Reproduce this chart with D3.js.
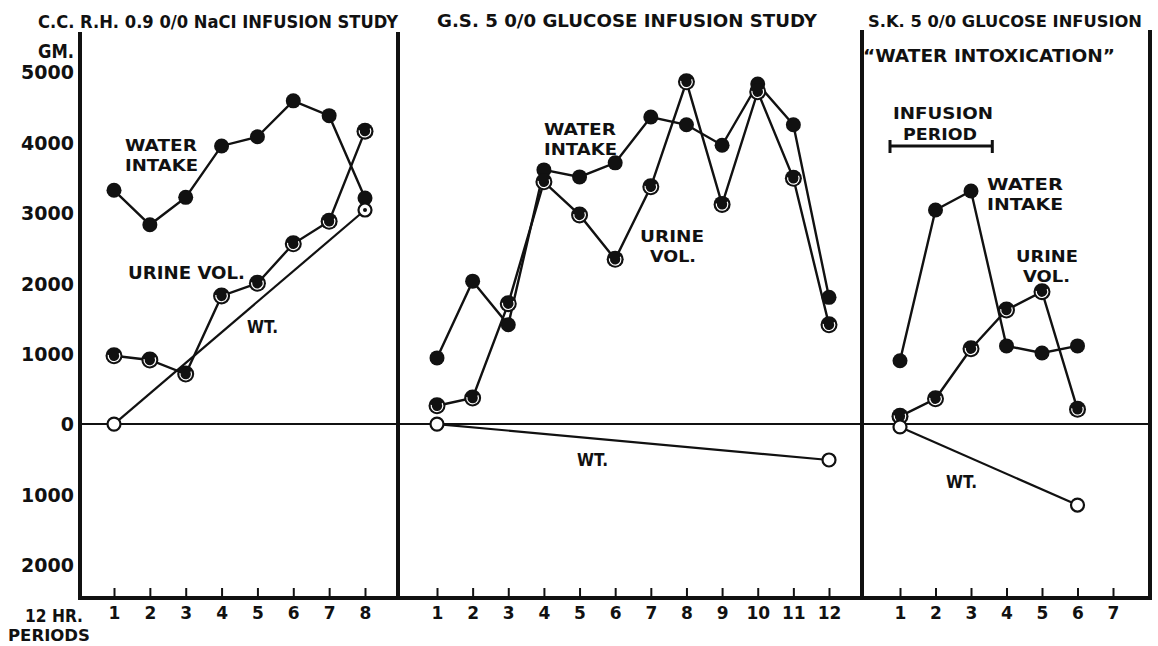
<!DOCTYPE html>
<html>
<head>
<meta charset="utf-8">
<script src="https://cdn.jsdelivr.net/npm/d3@7"></script>
<style>
  body { margin: 0; background: #fff; }
  text { font-family: "DejaVu Sans", sans-serif; font-weight: bold; fill: #111; }
</style>
</head>
<body>
<svg id="chart"></svg>
<script>
// Размеры
const width = 1158;
const height = 646;

// Данные (граммы по 12-часовым периодам)
const ccPeriods = [1, 2, 3, 4, 5, 6, 7, 8];
const ccWater = [3320, 2830, 3220, 3950, 4080, 4590, 4380, 3210];
const ccUrine = [970, 910, 710, 1820, 2000, 2560, 2880, 4160];
const ccWtPeriods = [1, 8];
const ccWt = [0, 3040];

const gsPeriods = [1, 2, 3, 4, 5, 6, 7, 8, 9, 10, 11, 12];
const gsWater = [940, 2030, 1410, 3610, 3510, 3710, 4360, 4250, 3960, 4830, 4250, 1800];
const gsUrine = [260, 370, 1710, 3440, 2970, 2340, 3370, 4860, 3120, 4720, 3490, 1410];
const gsWtPeriods = [1, 12];
const gsWt = [0, -510];

const skPeriods = [1, 2, 3, 4, 5, 6];
const skWater = [900, 3040, 3310, 1110, 1010, 1110];
const skUrine = [110, 360, 1070, 1620, 1880, 210];
const skWtPeriods = [1, 6];
const skWt = [-40, -1150];

const yTicks = [5000, 4000, 3000, 2000, 1000, 0, -1000, -2000];
const ccTicks = [1, 2, 3, 4, 5, 6, 7, 8];
const gsTicks = [1, 2, 3, 4, 5, 6, 7, 8, 9, 10, 11, 12];
const skTicks = [1, 2, 3, 4, 5, 6, 7];

const svg = d3.select("#chart").attr("width", width).attr("height", height);

const y = d3.scaleLinear().domain([-2470, 5000]).range([598, 72]);

const panels = [
    { x: d3.scaleLinear().domain([1, 8]).range([114, 365]), ticks: ccTicks,
      periods: ccPeriods, water: ccWater, urine: ccUrine, wtP: ccWtPeriods, wt: ccWt },
    { x: d3.scaleLinear().domain([1, 12]).range([437, 829]), ticks: gsTicks,
      periods: gsPeriods, water: gsWater, urine: gsUrine, wtP: gsWtPeriods, wt: gsWt },
    { x: d3.scaleLinear().domain([1, 7]).range([900, 1113]), ticks: skTicks,
      periods: skPeriods, water: skWater, urine: skUrine, wtP: skWtPeriods, wt: skWt }
];

// рамки панелей
const frameX = [80, 398, 862, 1150];
svg.append("g").selectAll("line")
    .data(frameX)
    .join("line")
    .attr("x1", d => d).attr("x2", d => d)
    .attr("y1", (d, i) => i >= 2 ? 30 : 32).attr("y2", 600)
    .attr("stroke", "#111").attr("stroke-width", 4);

// нулевая линия
svg.append("line")
    .attr("x1", 80).attr("x2", 1150)
    .attr("y1", y(0)).attr("y2", y(0))
    .attr("stroke", "#111").attr("stroke-width", 2);

// нижняя ось
svg.append("line")
    .attr("x1", 78).attr("x2", 1152)
    .attr("y1", 598).attr("y2", 598)
    .attr("stroke", "#111").attr("stroke-width", 4);

// ось Y
const yAxis = svg.append("g")
    .attr("transform", "translate(75,0)")
    .call(d3.axisLeft(y).tickValues(yTicks).tickSize(0).tickPadding(1).tickFormat(d => Math.abs(d)));
yAxis.select(".domain").remove();
yAxis.selectAll("text")
    .style("font-family", "DejaVu Sans, sans-serif")
    .style("font-weight", "bold")
    .style("font-size", "19px")
    .attr("dy", "0.36em");

const line = d3.line().x(d => d[0]).y(d => d[1]);

panels.forEach(p => {
    const ax = svg.append("g")
        .attr("transform", "translate(0,597)")
        .call(d3.axisBottom(p.x).tickValues(p.ticks).tickFormat(d3.format("d"))
            .tickSizeInner(-9).tickSizeOuter(0).tickPadding(10));
    ax.select(".domain").remove();
    ax.selectAll("line").attr("stroke", "#111").attr("stroke-width", 2);
    ax.selectAll("text")
        .style("font-family", "DejaVu Sans, sans-serif")
        .style("font-weight", "bold")
        .style("font-size", "17px");

    const g = svg.append("g");
    const wPts = p.periods.map((d, i) => [p.x(d), y(p.water[i])]);
    const uPts = p.periods.map((d, i) => [p.x(d), y(p.urine[i])]);
    const tPts = p.wtP.map((d, i) => [p.x(d), y(p.wt[i])]);

    g.append("path").attr("d", line(tPts)).attr("fill", "none").attr("stroke", "#111").attr("stroke-width", 2.2);
    g.append("path").attr("d", line(uPts)).attr("fill", "none").attr("stroke", "#111").attr("stroke-width", 2.4);
    g.append("path").attr("d", line(wPts)).attr("fill", "none").attr("stroke", "#111").attr("stroke-width", 2.4);

    // потребление воды — сплошные точки
    g.append("g").selectAll("circle").data(wPts).join("circle")
        .attr("cx", d => d[0]).attr("cy", d => d[1]).attr("r", 7.5).attr("fill", "#111");

    // объём мочи — точка с белым кольцом
    const u = g.append("g").selectAll("g").data(uPts).join("g")
        .attr("transform", d => `translate(${d[0]},${d[1]})`);
    u.append("circle").attr("r", 8.5).attr("fill", "#111");
    u.append("path")
        .attr("d", d3.arc().innerRadius(5.2).outerRadius(6.4).startAngle(Math.PI * 0.35).endAngle(Math.PI * 1.55)())
        .attr("fill", "#fff");

    // вес — открытые кружки
    g.append("g").selectAll("circle").data(tPts).join("circle")
        .attr("cx", d => d[0]).attr("cy", d => d[1]).attr("r", 6.5)
        .attr("fill", "#fff").attr("stroke", "#111").attr("stroke-width", 2.2);
});

// точка в последнем кружке веса первой панели
svg.append("circle")
    .attr("cx", panels[0].x(8)).attr("cy", y(3040)).attr("r", 2).attr("fill", "#111");

// подписи
function label(x, yy, txt, size, len) {
    const t = svg.append("text").attr("x", x).attr("y", yy).style("font-size", size + "px").text(txt);
    if (len) t.attr("textLength", len).attr("lengthAdjust", "spacingAndGlyphs");
    return t;
}
label(38, 28, "C.C. R.H. 0.9 0/0 NaCI INFUSION STUDY", 18, 360);
label(437, 27, "G.S. 5 0/0 GLUCOSE INFUSION STUDY", 18, 380);
label(868, 27, "S.K. 5 0/0 GLUCOSE INFUSION", 16, 274);
label(863, 62, "\u201cWATER INTOXICATION\u201d", 17, 252);

label(38, 58, "GM.", 19, 36);

// подписи серий
label(125, 151, "WATER", 16.5, 72);
label(125, 171, "INTAKE", 16.5, 73);
label(128, 279, "URINE VOL.", 18, 117);
label(247, 333, "WT.", 17, 31);

label(544, 135, "WATER", 16.5, 72);
label(544, 155, "INTAKE", 16.5, 73);
label(640, 242, "URINE", 16.5, 64);
label(650, 262, "VOL.", 16.5, 46);
label(577, 466, "WT.", 17, 31);

label(893, 119, "INFUSION", 16.5, 100);
label(903, 140, "PERIOD", 16.5, 74);
label(987, 190, "WATER", 16.5, 76);
label(987, 210, "INTAKE", 16.5, 76);
label(1016, 262, "URINE", 16.5, 62);
label(1023, 282, "VOL.", 16.5, 47);
label(946, 488, "WT.", 17, 31);

// полоса периода инфузии
const xs = panels[2].x;
const barEnds = [xs(1) - 10, xs(3.6)];
svg.append("line").attr("x1", barEnds[0]).attr("x2", barEnds[1]).attr("y1", 146).attr("y2", 146)
    .attr("stroke", "#111").attr("stroke-width", 3);
svg.append("g").selectAll("line").data(barEnds).join("line")
    .attr("x1", d => d).attr("x2", d => d).attr("y1", 140).attr("y2", 153)
    .attr("stroke", "#111").attr("stroke-width", 3);

label(25, 622, "12 HR.", 18, 58);
label(8, 641, "PERIODS", 15, 82);
</script>
</body>
</html>
